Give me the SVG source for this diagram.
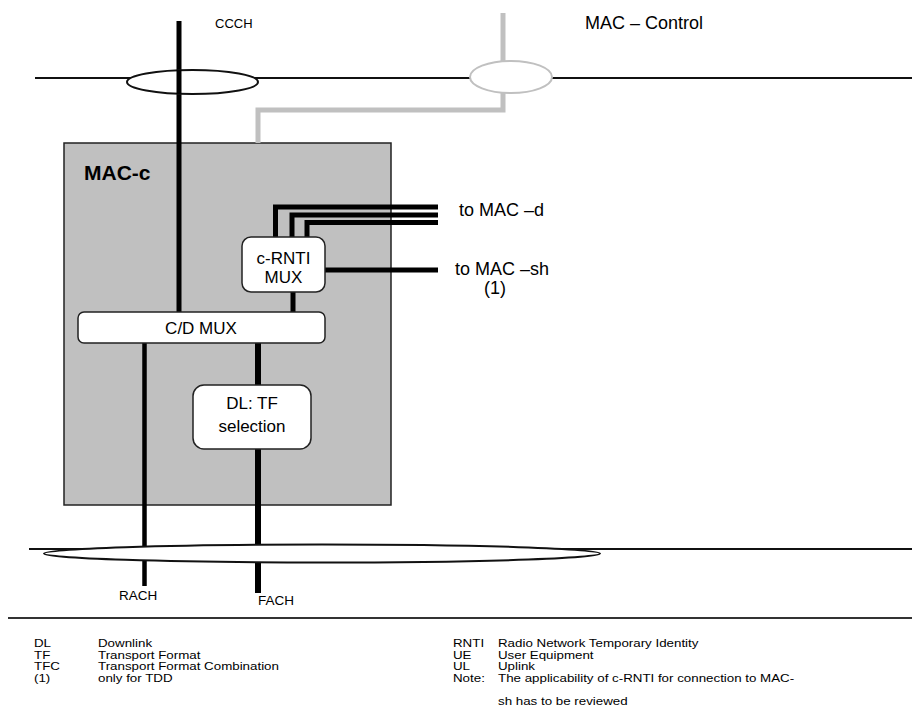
<svg xmlns="http://www.w3.org/2000/svg" width="912" height="711" viewBox="0 0 912 711">
<style>
text{font-family:"Liberation Sans",Arial,sans-serif;fill:#000}
.thin{stroke:#111;stroke-width:2;fill:none}
.blk{stroke:#000;stroke-width:5;fill:none}
.gry{stroke:#c0c0c0;stroke-width:5;fill:none}
.box{fill:#fff;stroke:#222;stroke-width:1.5}
.lbl{font-size:17px;text-anchor:middle}
.lg text{font-size:11.5px}
</style>
<rect width="912" height="711" fill="#fff"/>
<g id="mac-c">
<rect x="64" y="143" width="327" height="362" fill="#c0c0c0" stroke="#222" stroke-width="1.5"/>
<text x="84" y="180" font-size="21" font-weight="bold">MAC-c</text>
</g>
<g id="connectors">
<line class="thin" x1="35" y1="78" x2="912" y2="78"/>
<line class="thin" x1="29" y1="549" x2="912" y2="549"/>
<line x1="8" y1="618" x2="912" y2="618" stroke="#333" stroke-width="2"/>
<polyline class="gry" points="503,13 503,61"/>
<polyline class="gry" points="503,93 503,110 258,110 258,143"/>
<line class="blk" x1="179" y1="21" x2="179" y2="312"/>
<polyline class="blk" points="275.5,237 275.5,207 438,207"/>
<polyline class="blk" points="292,237 292,215 438,215"/>
<polyline class="blk" points="307,237 307,222.5 438,222.5"/>
<line class="blk" x1="325" y1="270" x2="438" y2="270"/>
<line class="blk" x1="293" y1="292" x2="293" y2="312"/>
<line stroke="#000" stroke-width="4.5" x1="144.5" y1="343" x2="144.5" y2="586"/>
<line stroke="#000" stroke-width="6" x1="258" y1="343" x2="258" y2="385"/>
<line stroke="#000" stroke-width="6" x1="258" y1="449" x2="258" y2="593"/>
</g>
<g id="sap-ccch">
<ellipse cx="192.5" cy="82" rx="65.5" ry="12" fill="#fff" stroke="#111" stroke-width="2"/>
<line class="blk" x1="179" y1="70" x2="179" y2="94"/>
</g>
<g id="sap-control">
<ellipse cx="511" cy="77" rx="41" ry="16" fill="#fff" stroke="#c0c0c0" stroke-width="2"/>
</g>
<g id="sap-transport">
<ellipse cx="322" cy="553.5" rx="278" ry="9" fill="#fff" stroke="#111" stroke-width="2"/>
</g>
<g id="crnti-mux">
<rect class="box" x="242" y="237" width="83" height="55" rx="9"/>
<text class="lbl" x="283.5" y="264">c-RNTI</text>
<text class="lbl" x="283.5" y="283">MUX</text>
</g>
<g id="cd-mux">
<rect class="box" x="78" y="312" width="247" height="31" rx="6"/>
<text class="lbl" x="201" y="334">C/D MUX</text>
</g>
<g id="dl-tf">
<rect class="box" x="193" y="385" width="118" height="64" rx="11"/>
<text class="lbl" x="252" y="409">DL: TF</text>
<text class="lbl" x="252" y="432">selection</text>
</g>
<g id="labels">
<text x="215" y="28" font-size="13">CCCH</text>
<text x="585" y="29" font-size="18">MAC – Control</text>
<text x="459" y="216" font-size="18">to MAC –d</text>
<text x="455" y="275" font-size="18">to MAC –sh</text>
<text x="495" y="294" font-size="18" text-anchor="middle">(1)</text>
<text x="119" y="600" font-size="13.5">RACH</text>
<text x="258" y="605" font-size="13.5">FACH</text>
</g>
<g id="legend" class="lg">
<g transform="translate(34,0) scale(1.16,1)">
<text x="0" y="647">DL</text>
<text x="0" y="658.7">TF</text>
<text x="0" y="670.3">TFC</text>
<text x="0" y="682">(1)</text>
</g>
<g transform="translate(98,0) scale(1.16,1)">
<text x="0" y="647">Downlink</text>
<text x="0" y="658.7">Transport Format</text>
<text x="0" y="670.3">Transport Format Combination</text>
<text x="0" y="682">only for TDD</text>
</g>
<g transform="translate(453,0) scale(1.16,1)">
<text x="0" y="647">RNTI</text>
<text x="0" y="658.7">UE</text>
<text x="0" y="670.3">UL</text>
<text x="0" y="682">Note:</text>
</g>
<g transform="translate(498,0) scale(1.16,1)">
<text x="0" y="647">Radio Network Temporary Identity</text>
<text x="0" y="658.7">User Equipment</text>
<text x="0" y="670.3">Uplink</text>
<text x="0" y="682">The applicability of c-RNTI for connection to MAC-</text>
<text x="0" y="705">sh has to be reviewed</text>
</g>
</g>
</svg>
